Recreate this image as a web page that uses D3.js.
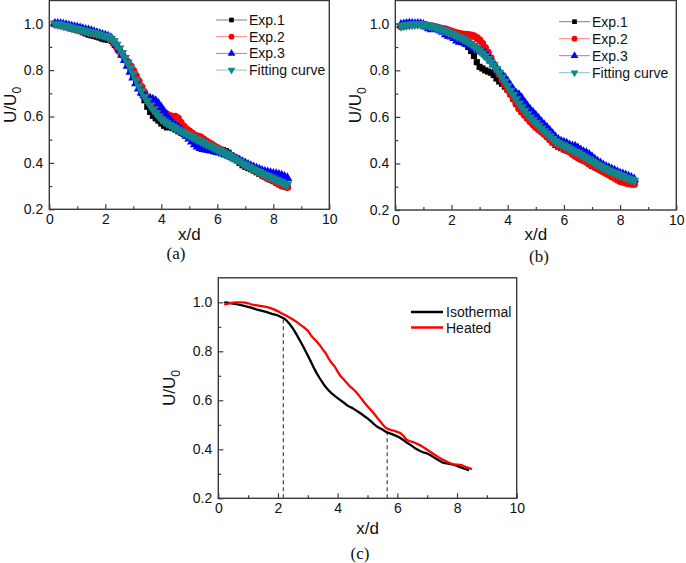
<!DOCTYPE html>
<html><head><meta charset="utf-8">
<script src="https://cdn.jsdelivr.net/npm/d3@7/dist/d3.min.js"></script>
<style>body{margin:0;background:#fff}svg{display:block}</style>
</head><body>
<svg id="chart" width="686" height="563"></svg>
<script>
// ---------- data (x/d grid) ----------
const xd = [0.2,0.3,0.4,0.5,0.6,0.7,0.8,0.9,1.0,1.1,1.2,1.3,1.4,1.5,1.6,1.7,1.8,1.9,2.0,2.1,2.2,2.3,2.4,2.5,2.6,2.7,2.8,2.9,3.0,3.1,3.2,3.3,3.4,3.5,3.6,3.7,3.8,3.9,4.0,4.1,4.2,4.3,4.4,4.5,4.6,4.7,4.8,4.9,5.0,5.1,5.2,5.3,5.4,5.5,5.6,5.7,5.8,5.9,6.0,6.1,6.2,6.3,6.4,6.5,6.6,6.7,6.8,6.9,7.0,7.1,7.2,7.3,7.4,7.5,7.6,7.7,7.8,7.9,8.0,8.1,8.2,8.3,8.4,8.5];

// panel (a)
const aExp1 = [1.000,0.998,0.995,0.992,0.989,0.986,0.982,0.978,0.974,0.969,0.963,0.958,0.953,0.950,0.947,0.944,0.940,0.935,0.932,0.931,0.930,0.921,0.907,0.891,0.873,0.852,0.830,0.807,0.782,0.755,0.727,0.700,0.670,0.642,0.620,0.603,0.592,0.582,0.570,0.560,0.553,0.556,0.550,0.544,0.537,0.531,0.525,0.518,0.510,0.503,0.497,0.492,0.487,0.483,0.479,0.475,0.470,0.466,0.462,0.458,0.455,0.451,0.444,0.433,0.422,0.412,0.400,0.390,0.383,0.378,0.373,0.367,0.360,0.353,0.346,0.340,0.334,0.328,0.322,0.316,0.311,0.306,0.302,0.299];
const aExp2 = [0.998,0.996,0.993,0.990,0.987,0.983,0.979,0.976,0.973,0.970,0.967,0.964,0.962,0.960,0.957,0.954,0.951,0.948,0.945,0.939,0.929,0.915,0.898,0.881,0.866,0.852,0.836,0.818,0.798,0.776,0.752,0.727,0.703,0.680,0.658,0.640,0.625,0.615,0.612,0.618,0.610,0.603,0.600,0.600,0.592,0.574,0.558,0.545,0.537,0.528,0.518,0.515,0.512,0.503,0.494,0.487,0.480,0.472,0.465,0.458,0.451,0.443,0.436,0.430,0.424,0.419,0.408,0.398,0.390,0.384,0.378,0.372,0.365,0.357,0.348,0.340,0.334,0.329,0.323,0.315,0.308,0.302,0.298,0.295];
const aExp3 = [1.000,0.999,0.998,0.996,0.994,0.991,0.988,0.985,0.983,0.980,0.977,0.974,0.971,0.968,0.964,0.960,0.956,0.952,0.949,0.945,0.938,0.925,0.908,0.888,0.866,0.843,0.818,0.793,0.768,0.743,0.720,0.703,0.690,0.682,0.677,0.673,0.667,0.655,0.638,0.620,0.603,0.585,0.572,0.562,0.552,0.542,0.530,0.517,0.505,0.492,0.480,0.470,0.464,0.460,0.457,0.455,0.453,0.450,0.447,0.444,0.440,0.436,0.431,0.426,0.420,0.415,0.410,0.404,0.398,0.392,0.386,0.381,0.376,0.371,0.366,0.362,0.359,0.356,0.353,0.352,0.349,0.345,0.340,0.335];
const aFit  = [1.000,0.998,0.996,0.993,0.990,0.987,0.984,0.981,0.978,0.975,0.972,0.969,0.966,0.963,0.960,0.957,0.954,0.950,0.947,0.943,0.936,0.925,0.910,0.893,0.874,0.853,0.832,0.810,0.785,0.758,0.731,0.709,0.686,0.667,0.648,0.631,0.616,0.601,0.588,0.579,0.571,0.564,0.557,0.551,0.543,0.537,0.531,0.525,0.518,0.512,0.506,0.500,0.494,0.488,0.482,0.476,0.470,0.464,0.458,0.452,0.446,0.440,0.434,0.427,0.420,0.413,0.405,0.398,0.391,0.385,0.379,0.373,0.367,0.361,0.355,0.349,0.344,0.338,0.333,0.328,0.322,0.317,0.312,0.307];

// panel (b)
const bExp1 = [0.990,0.992,0.994,0.996,0.997,0.997,0.997,0.996,0.995,0.993,0.990,0.987,0.983,0.979,0.975,0.971,0.966,0.960,0.954,0.947,0.940,0.933,0.925,0.914,0.900,0.883,0.862,0.835,0.815,0.808,0.800,0.795,0.790,0.780,0.765,0.752,0.742,0.730,0.716,0.698,0.678,0.656,0.637,0.622,0.610,0.598,0.586,0.576,0.566,0.555,0.543,0.530,0.517,0.503,0.490,0.479,0.472,0.466,0.460,0.456,0.452,0.447,0.441,0.434,0.427,0.420,0.411,0.399,0.390,0.384,0.380,0.376,0.372,0.368,0.364,0.359,0.355,0.351,0.349,0.350,0.346,0.338,0.330,0.324];
const bExp2 = [0.988,0.990,0.993,0.995,0.997,0.998,0.998,0.997,0.996,0.994,0.992,0.990,0.987,0.984,0.981,0.979,0.976,0.972,0.968,0.964,0.960,0.957,0.955,0.954,0.953,0.951,0.947,0.940,0.930,0.915,0.897,0.877,0.853,0.826,0.802,0.782,0.760,0.738,0.717,0.698,0.678,0.657,0.637,0.622,0.608,0.594,0.580,0.567,0.556,0.546,0.536,0.526,0.515,0.504,0.493,0.483,0.475,0.469,0.463,0.457,0.450,0.441,0.432,0.424,0.418,0.413,0.406,0.398,0.392,0.385,0.378,0.371,0.364,0.358,0.351,0.344,0.337,0.330,0.324,0.320,0.317,0.314,0.312,0.311];
const bExp3 = [0.995,0.998,1.000,1.001,1.000,0.999,1.000,0.999,0.995,0.988,0.980,0.976,0.978,0.977,0.972,0.965,0.955,0.948,0.945,0.938,0.928,0.922,0.920,0.916,0.912,0.905,0.897,0.890,0.885,0.880,0.872,0.858,0.842,0.826,0.810,0.795,0.780,0.768,0.752,0.733,0.715,0.700,0.694,0.680,0.662,0.645,0.630,0.619,0.606,0.592,0.578,0.565,0.553,0.540,0.526,0.512,0.501,0.494,0.490,0.485,0.478,0.474,0.472,0.465,0.456,0.449,0.445,0.437,0.427,0.417,0.408,0.400,0.392,0.386,0.380,0.375,0.369,0.363,0.357,0.353,0.349,0.344,0.338,0.332];
const bFit  = [0.991,0.993,0.995,0.996,0.997,0.998,0.998,0.998,0.997,0.995,0.992,0.989,0.985,0.981,0.977,0.973,0.968,0.963,0.958,0.953,0.947,0.941,0.935,0.929,0.922,0.914,0.905,0.896,0.886,0.874,0.862,0.849,0.836,0.822,0.806,0.789,0.771,0.752,0.733,0.713,0.694,0.676,0.658,0.642,0.627,0.612,0.598,0.586,0.574,0.562,0.550,0.539,0.528,0.517,0.506,0.496,0.488,0.482,0.477,0.471,0.464,0.457,0.451,0.445,0.438,0.431,0.424,0.417,0.410,0.403,0.396,0.389,0.382,0.376,0.370,0.365,0.360,0.355,0.350,0.345,0.340,0.336,0.331,0.326];

// panel (c)
const cIso  = [1.000,0.999,0.997,0.995,0.993,0.990,0.987,0.984,0.981,0.978,0.974,0.970,0.967,0.964,0.961,0.957,0.953,0.950,0.946,0.940,0.934,0.924,0.910,0.893,0.873,0.852,0.830,0.806,0.783,0.758,0.733,0.710,0.690,0.671,0.654,0.640,0.628,0.618,0.609,0.600,0.591,0.581,0.574,0.568,0.560,0.552,0.544,0.535,0.526,0.516,0.505,0.494,0.487,0.481,0.473,0.467,0.463,0.458,0.453,0.446,0.438,0.429,0.421,0.413,0.404,0.397,0.391,0.386,0.383,0.377,0.369,0.361,0.354,0.347,0.344,0.342,0.339,0.336,0.332,0.327,0.323,0.319,0.314];
const cHeat = [0.990,0.994,0.997,0.999,1.000,1.000,1.000,0.999,0.996,0.992,0.989,0.987,0.985,0.983,0.981,0.978,0.974,0.969,0.963,0.956,0.950,0.944,0.937,0.930,0.922,0.913,0.904,0.895,0.884,0.866,0.852,0.840,0.825,0.808,0.792,0.770,0.752,0.738,0.717,0.698,0.686,0.672,0.658,0.648,0.636,0.622,0.606,0.590,0.576,0.562,0.548,0.533,0.518,0.502,0.489,0.482,0.478,0.475,0.471,0.466,0.456,0.440,0.434,0.430,0.426,0.420,0.414,0.406,0.398,0.390,0.382,0.374,0.366,0.359,0.353,0.347,0.342,0.338,0.337,0.336,0.333,0.328,0.323,0.319];
const dashX = [2.18, 5.66];
const dashTop = [0.935, 0.468];

// axes / labels
const xTicks = [0,2,4,6,8,10];
const xMinor = [1,3,5,7,9];
const yTicks = [0.2,0.4,0.6,0.8,1.0];
const yMinor = [0.3,0.5,0.7,0.9];
const legendAB = ["Exp.1","Exp.2","Exp.3","Fitting curve"];
const legendC = ["Isothermal","Heated"];
const captions = ["(a)","(b)","(c)"];

// ---------- drawing ----------
const svg = d3.select("#chart");
const SANS = "'Liberation Sans', Arial, sans-serif";
const SERIF = "'Liberation Serif', 'Times New Roman', serif";
const AX = "#3a3a3a";
const colors = ["#000000","#ff0000","#0000ff","#12868a"];
const symbols = [d3.symbolSquare, d3.symbolCircle, d3.symbolTriangle, d3.symbolTriangle];
const symSize = [38, 44, 44, 44];
const legSize = [22, 26, 26, 26];
const symRot = [0,0,0,180];

function frame(p){
  const x = d3.scaleLinear().domain([0,10]).range([p.x0,p.x1]);
  const y = d3.scaleLinear().domain([0.2,1.1]).range([p.yb,p.yt]);
  const g = svg.append("g");
  g.append("g").attr("transform",`translate(0,${p.yb})`)
    .call(d3.axisBottom(x).tickValues(xMinor).tickSize(-3).tickFormat(""))
    .call(s=>s.select(".domain").remove());
  g.append("g").attr("transform",`translate(${p.x0},0)`)
    .call(d3.axisLeft(y).tickValues(yMinor).tickSize(-3).tickFormat(""))
    .call(s=>s.select(".domain").remove());
  g.append("g").attr("transform",`translate(0,${p.yb})`)
    .call(d3.axisBottom(x).tickValues(xTicks).tickSizeInner(-5).tickSizeOuter(0).tickPadding(5).tickFormat(d3.format("d")));
  g.append("g").attr("transform",`translate(${p.x0},0)`)
    .call(d3.axisLeft(y).tickValues(yTicks).tickSizeInner(-5).tickSizeOuter(0).tickPadding(6).tickFormat(d3.format(".1f")));
  g.selectAll(".tick line").attr("stroke",AX).attr("stroke-width",1.2);
  g.selectAll(".tick text").attr("fill","#111").style("font-family",SANS).style("font-size","14px");
  g.selectAll(".domain").remove();
  g.append("rect").attr("x",p.x0).attr("y",p.yt).attr("width",p.x1-p.x0).attr("height",p.yb-p.yt)
    .attr("fill","none").attr("stroke",AX).attr("stroke-width",1.4);
  const cx = (p.x0+p.x1)/2, cy = (p.yb+p.yt)/2;
  svg.append("text").attr("x",cx).attr("y",p.xlabY).attr("text-anchor","middle")
    .style("font-family",SANS).style("font-size","17px").attr("fill","#111").text("x/d");
  const yl = svg.append("text").attr("transform",`translate(${p.ylabX},${cy}) rotate(-90)`)
    .attr("text-anchor","middle").style("font-family",SANS).style("font-size","17px").attr("fill","#111");
  yl.append("tspan").text("U/U");
  yl.append("tspan").attr("dy",5).style("font-size","12px").text("0");
  svg.append("text").attr("x",p.capX).attr("y",p.capY).attr("text-anchor","middle")
    .style("font-family",SERIF).style("font-size","17px").attr("fill","#111").text(p.cap);
  return {x,y};
}

function scatterPanel(p, series){
  const {x,y} = frame(p);
  series.forEach((vals,i)=>{
    const pts = vals.map((v,k)=>[xd[k],v]);
    svg.append("path").datum(pts)
      .attr("d",d3.line().x(d=>x(d[0])).y(d=>y(d[1])))
      .attr("fill","none").attr("stroke",colors[i]).attr("stroke-width",1);
    svg.append("g").selectAll("path").data(pts).join("path")
      .attr("transform",d=>`translate(${x(d[0])},${y(d[1])}) rotate(${symRot[i]})`)
      .attr("d",d3.symbol(symbols[i],symSize[i])())
      .attr("fill",colors[i]);
  });
  legendAB.forEach((name,i)=>{
    const ly = p.legY + i*p.legDy;
    svg.append("line").attr("x1",p.legX).attr("x2",p.legX+31).attr("y1",ly).attr("y2",ly)
      .attr("stroke",colors[i]).attr("stroke-width",1).attr("stroke-opacity",0.5);
    svg.append("path").attr("transform",`translate(${p.legX+15.5},${ly}) rotate(${symRot[i]})`)
      .attr("d",d3.symbol(symbols[i],legSize[i])()).attr("fill",colors[i]);
    svg.append("text").attr("x",p.legX+33).attr("y",ly).attr("dy","0.36em")
      .style("font-family",SANS).style("font-size","14px").attr("fill","#111").text(name);
  });
}

scatterPanel({x0:49.3,x1:329.3,yb:209.3,yt:0.5,xlabY:240,ylabX:16,capX:176,capY:259,cap:captions[0],
  legX:216,legY:20,legDy:16.7},[aExp1,aExp2,aExp3,aFit]);
scatterPanel({x0:395.3,x1:676.3,yb:210,yt:0.5,xlabY:240,ylabX:361,capX:539,capY:262,cap:captions[1],
  legX:559,legY:21.7,legDy:17},[bExp1,bExp2,bExp3,bFit]);

(function(){
  const p = {x0:218.3,x1:516.7,yb:498.3,yt:277.8,xlabY:534,ylabX:175,capX:360,capY:559,cap:captions[2]};
  const {x,y} = frame(p);
  dashX.forEach((dx,i)=>{
    svg.append("line").attr("x1",x(dx)).attr("x2",x(dx)).attr("y1",y(0.2)).attr("y2",y(dashTop[i]))
      .attr("stroke","#555").attr("stroke-width",1.3).attr("stroke-dasharray","4,3");
  });
  const cCols = ["#000000","#ff0000"];
  [cIso,cHeat].forEach((vals,i)=>{
    const pts = vals.map((v,k)=>[xd[k],v]);
    svg.append("path").datum(pts)
      .attr("d",d3.line().x(d=>x(d[0])).y(d=>y(d[1])))
      .attr("fill","none").attr("stroke",cCols[i]).attr("stroke-width",2.3).attr("stroke-linejoin","round");
  });
  legendC.forEach((name,i)=>{
    const ly = 312 + i*15.5;
    svg.append("line").attr("x1",411).attr("x2",443).attr("y1",ly).attr("y2",ly)
      .attr("stroke",cCols[i]).attr("stroke-width",2.5);
    svg.append("text").attr("x",446).attr("y",ly).attr("dy","0.36em")
      .style("font-family",SANS).style("font-size","14px").attr("fill","#111").text(name);
  });
})();
</script>
</body></html>
